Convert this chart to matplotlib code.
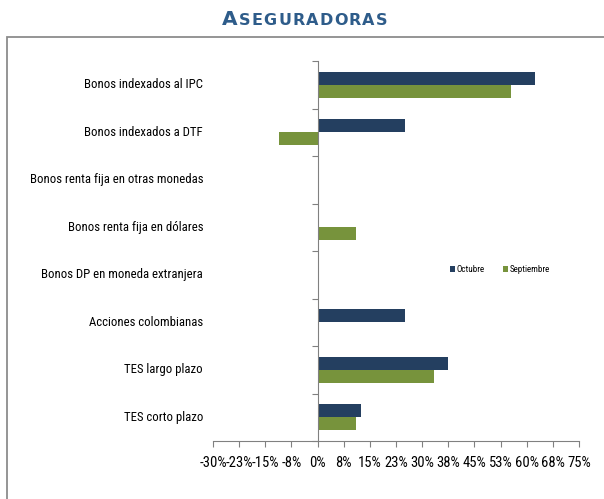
import matplotlib
matplotlib.use("Agg")
import matplotlib.pyplot as plt
from matplotlib.patches import Rectangle
from matplotlib.ticker import FuncFormatter
import matplotlib.transforms as mtrans
import numpy as np

categories = ["Bonos indexados al IPC", "Bonos indexados a DTF",
              "Bonos renta fija en otras monedas", "Bonos renta fija en dólares",
              "Bonos DP en moneda extranjera", "Acciones colombianas",
              "TES largo plazo", "TES corto plazo"]
octubre = [62.5, 25.0, 0.0, 0.0, 0.0, 25.0, 37.5, 12.5]
septiembre = [55.5, -11.0, 0.0, 11.0, 0.0, 0.0, 33.5, 11.0]
xticks = [-30, -22.5, -15, -7.5, 0, 7.5, 15, 22.5, 30, 37.5, 45, 52.5, 60, 67.5, 75]
title_first, title_rest = "A", "SEGURADORAS"

lab_font = "Roboto Condensed"
title_font = "DejaVu Sans"
navy = "#243F60"
green = "#77933C"
title_color = "#2E5C8A"

W, H = 604, 499
fig = plt.figure(figsize=(W/100, H/100), dpi=100)
renderer = fig.canvas.get_renderer()

# border box (right and bottom edges fall outside the picture)
fig.patches.append(Rectangle((7/W, -0.05), 1.1, (H-37)/H + 0.05, transform=fig.transFigure,
                             fill=False, edgecolor="#8c8c8c", linewidth=1.3))

# title, small caps imitation with letter placement
letters = [(title_first, 14.5)] + [(ch, 11.5) for ch in title_rest]
x0, x1, base = 222, 387, 25
txts = []
widths = []
for ch, fs in letters:
    t = fig.text(0, 1-base/H, ch, fontsize=fs, fontweight="bold", color=title_color,
                 family=title_font, ha="left", va="baseline")
    widths.append(t.get_window_extent(renderer).width)
    txts.append(t)
gap = ((x1 - x0) - sum(widths)) / (len(letters) - 1)
xc = x0
for t, w in zip(txts, widths):
    t.set_x(xc / W)
    xc += w + gap

ax = fig.add_axes([213/W, 1-441/H, (579-213)/W, (441-61)/H])
n = len(categories)
y = np.arange(n)
h = 0.27
ax.barh(y - h/2, octubre, height=h, color=navy, label="Octubre")
ax.barh(y + h/2, septiembre, height=h, color=green, label="Septiembre")
ax.set_ylim(n - 0.5, -0.5)
ax.set_xlim(-30, 75)
ax.set_xticks(xticks)
ax.xaxis.set_major_formatter(FuncFormatter(
    lambda v, p: f"{int(np.sign(v) * np.floor(abs(v) + 0.5))}%"))
ax.set_yticks(np.arange(n + 1) - 0.5)
ax.set_yticklabels([])
for s in ["top", "right"]:
    ax.spines[s].set_visible(False)
ax.spines["left"].set_position(("data", 0))
ax.spines["left"].set_color("#808080")
ax.spines["bottom"].set_color("#808080")
ax.tick_params(axis="x", length=4, color="#808080", labelsize=10.5, pad=7)
ax.tick_params(axis="y", length=4, color="#808080")
for lab in ax.get_xticklabels():
    lab.set_family(lab_font)

# category labels, sized so the longest spans the reference width
labs = []
tr = mtrans.blended_transform_factory(fig.transFigure, ax.transData)
for i, c in enumerate(categories):
    t = ax.text(203/W, i, c, transform=tr, ha="right", va="center",
                fontsize=9, family=lab_font)
    labs.append(t)
wmax = max(t.get_window_extent(renderer).width for t in labs)
fs = 9 * 173 / wmax
for t in labs:
    t.set_fontsize(fs)
ax.patch.set_alpha(0)

leg = ax.legend(loc="center", bbox_to_anchor=(500/W, 1-270/H), bbox_transform=fig.transFigure,
                ncol=2, frameon=False, handlelength=0.5, handleheight=0.6,
                columnspacing=2.1, handletextpad=0.2, prop={"family": lab_font, "size": 6.5})

fig.savefig("out.png", dpi=100)
